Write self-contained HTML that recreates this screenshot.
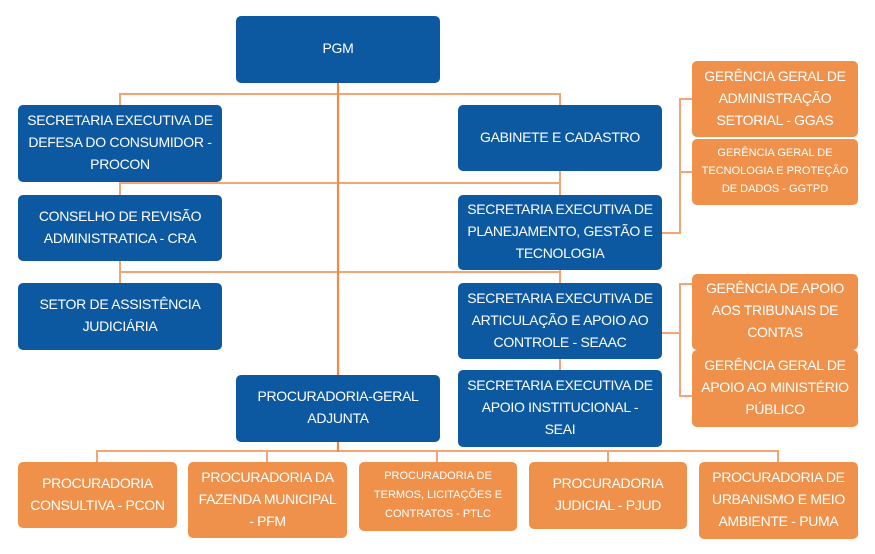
<!DOCTYPE html>
<html>
<head>
<meta charset="utf-8">
<style>
  html,body{margin:0;padding:0;background:#ffffff;}
  body{width:875px;height:554px;position:relative;overflow:hidden;font-family:"Liberation Sans","DejaVu Sans",sans-serif;}
  svg{position:absolute;left:0;top:0;}
  .b{position:absolute;display:flex;align-items:center;justify-content:center;text-align:center;color:#fff;border-radius:5px;font-size:14px;line-height:22px;letter-spacing:-0.3px;box-sizing:border-box;padding:0 2px 3px 2px;}
  .blue{background:#0c59a2;}
  .or{background:#f0914b;}
  .sm{font-size:11px;line-height:19px;letter-spacing:0;}
</style>
</head>
<body>
<svg width="875" height="554" viewBox="0 0 875 554">
  <g stroke="#f4a575" stroke-width="2" fill="none">
    <line x1="120" y1="94" x2="560" y2="94"/>
    <line x1="120" y1="93" x2="120" y2="106"/>
    <line x1="560" y1="93" x2="560" y2="106"/>
    <line x1="120" y1="183" x2="560" y2="183"/>
    <line x1="120" y1="181" x2="120" y2="196"/>
    <line x1="560" y1="170" x2="560" y2="196"/>
    <line x1="120" y1="272" x2="560" y2="272"/>
    <line x1="120" y1="260" x2="120" y2="284"/>
    <line x1="560" y1="269" x2="560" y2="284"/>
    <line x1="560" y1="358" x2="560" y2="371"/>
    <polyline points="662,233 680,233 680,99 693,99"/>
    <line x1="680" y1="172" x2="693" y2="172"/>
    <polyline points="662,333 680,333 680,284 693,284"/>
    <polyline points="680,333 680,396 693,396"/>
    <line x1="97" y1="451" x2="778" y2="451"/>
    <line x1="97" y1="450" x2="97" y2="463"/>
    <line x1="267" y1="450" x2="267" y2="463"/>
    <line x1="437" y1="450" x2="437" y2="463"/>
    <line x1="608" y1="450" x2="608" y2="463"/>
    <line x1="778" y1="450" x2="778" y2="463"/>
  </g>
  <g stroke="#f08a45" stroke-width="2.2" fill="none">
    <line x1="338" y1="82" x2="338" y2="376"/>
    <line x1="338" y1="441" x2="338" y2="452"/>
  </g>
</svg>

<div class="b blue" style="left:236px;top:16px;width:204px;height:67px;">PGM</div>

<div class="b blue" style="left:18px;top:105px;width:204px;height:77px;">SECRETARIA EXECUTIVA DE<br>DEFESA DO CONSUMIDOR -<br>PROCON</div>
<div class="b blue" style="left:18px;top:195px;width:204px;height:66px;">CONSELHO DE REVISÃO<br>ADMINISTRATICA - CRA</div>
<div class="b blue" style="left:18px;top:283px;width:204px;height:67px;">SETOR DE ASSISTÊNCIA<br>JUDICIÁRIA</div>

<div class="b blue" style="left:458px;top:105px;width:204px;height:66px;">GABINETE E CADASTRO</div>
<div class="b blue" style="left:458px;top:195px;width:204px;height:75px;">SECRETARIA EXECUTIVA DE<br>PLANEJAMENTO, GESTÃO E<br>TECNOLOGIA</div>
<div class="b blue" style="left:458px;top:283px;width:204px;height:76px;">SECRETARIA EXECUTIVA DE<br>ARTICULAÇÃO E APOIO AO<br>CONTROLE - SEAAC</div>
<div class="b blue" style="left:458px;top:370px;width:204px;height:77px;">SECRETARIA EXECUTIVA DE<br>APOIO INSTITUCIONAL -<br>SEAI</div>

<div class="b blue" style="left:236px;top:375px;width:204px;height:67px;">PROCURADORIA-GERAL<br>ADJUNTA</div>

<div class="b or" style="left:692px;top:61px;width:166px;height:76px;">GERÊNCIA GERAL DE<br>ADMINISTRAÇÃO<br>SETORIAL - GGAS</div>
<div class="b or sm" style="left:692px;top:139px;width:166px;height:66px;line-height:18px;">GERÊNCIA GERAL DE<br>TECNOLOGIA E PROTEÇÃO<br>DE DADOS - GGTPD</div>
<div class="b or" style="left:692px;top:274px;width:166px;height:76px;padding-bottom:4px;">GERÊNCIA DE APOIO<br>AOS TRIBUNAIS DE<br>CONTAS</div>
<div class="b or" style="left:692px;top:350px;width:166px;height:77px;">GERÊNCIA GERAL DE<br>APOIO AO MINISTÉRIO<br>PÚBLICO</div>

<div class="b or" style="left:18px;top:462px;width:159px;height:66px;">PROCURADORIA<br>CONSULTIVA - PCON</div>
<div class="b or" style="left:188px;top:462px;width:159px;height:76px;">PROCURADORIA DA<br>FAZENDA MUNICIPAL<br>- PFM</div>
<div class="b or sm" style="left:359px;top:462px;width:158px;height:69px;">PROCURADORIA DE<br>TERMOS, LICITAÇÕES E<br>CONTRATOS - PTLC</div>
<div class="b or" style="left:529px;top:462px;width:158px;height:67px;">PROCURADORIA<br>JUDICIAL - PJUD</div>
<div class="b or" style="left:699px;top:462px;width:159px;height:77px;">PROCURADORIA DE<br>URBANISMO E MEIO<br>AMBIENTE - PUMA</div>
</body>
</html>
